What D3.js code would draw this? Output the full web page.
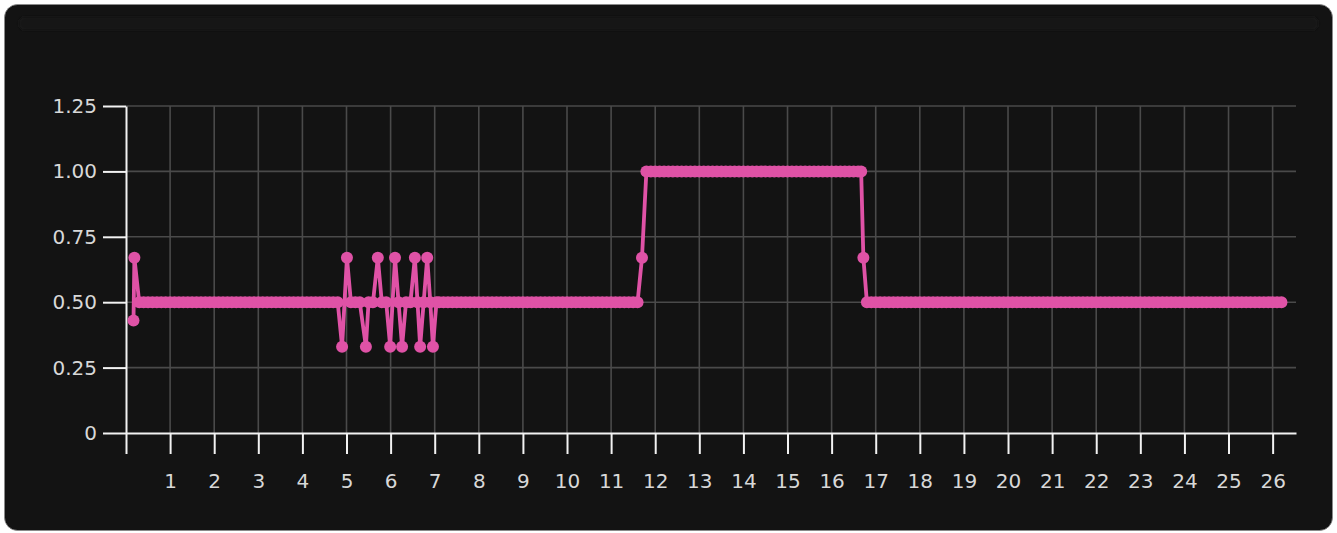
<!DOCTYPE html>
<html>
<head>
<meta charset="utf-8">
<script src="https://cdn.jsdelivr.net/npm/d3@7"></script>
<style>
    body { margin: 0; background: #fff; }
    .tick text { font-family: "DejaVu Sans", sans-serif; font-size: 20px; fill: #d8d8d8; }
</style>
</head>
<body>
<div class="viz"></div>
<script>
// hour of day -> share, one sample per circle
const samples = [
    [0.17, 0.43], [0.19, 0.67],
    [0.3, 0.5], [0.4, 0.5], [0.5, 0.5], [0.6, 0.5], [0.7, 0.5], [0.8, 0.5], [0.9, 0.5], [1.0, 0.5], [1.1, 0.5], [1.2, 0.5],
    [1.3, 0.5], [1.4, 0.5], [1.5, 0.5], [1.6, 0.5], [1.7, 0.5], [1.8, 0.5], [1.9, 0.5], [2.0, 0.5], [2.1, 0.5], [2.2, 0.5],
    [2.3, 0.5], [2.4, 0.5], [2.5, 0.5], [2.6, 0.5], [2.7, 0.5], [2.8, 0.5], [2.9, 0.5], [3.0, 0.5], [3.1, 0.5], [3.2, 0.5],
    [3.3, 0.5], [3.4, 0.5], [3.5, 0.5], [3.6, 0.5], [3.7, 0.5], [3.8, 0.5], [3.9, 0.5], [4.0, 0.5], [4.1, 0.5], [4.2, 0.5],
    [4.3, 0.5], [4.4, 0.5], [4.5, 0.5], [4.6, 0.5], [4.7, 0.5], [4.8, 0.5],
    [4.9, 0.33], [5.01, 0.67], [5.1, 0.5], [5.2, 0.5], [5.3, 0.5], [5.44, 0.33], [5.5, 0.5], [5.6, 0.5],
    [5.71, 0.67], [5.8, 0.5], [5.9, 0.5], [5.99, 0.33], [6.1, 0.67], [6.18, 0.5], [6.26, 0.33], [6.35, 0.5],
    [6.45, 0.5], [6.55, 0.67], [6.61, 0.5], [6.67, 0.33], [6.75, 0.5], [6.83, 0.67], [6.9, 0.5], [6.96, 0.33],
    [7.04, 0.5], [7.1, 0.5], [7.2, 0.5], [7.3, 0.5], [7.4, 0.5], [7.5, 0.5], [7.6, 0.5], [7.7, 0.5], [7.8, 0.5], [7.9, 0.5],
    [8.0, 0.5], [8.1, 0.5], [8.2, 0.5], [8.3, 0.5], [8.4, 0.5], [8.5, 0.5], [8.6, 0.5], [8.7, 0.5], [8.8, 0.5], [8.9, 0.5],
    [9.0, 0.5], [9.1, 0.5], [9.2, 0.5], [9.3, 0.5], [9.4, 0.5], [9.5, 0.5], [9.6, 0.5], [9.7, 0.5], [9.8, 0.5], [9.9, 0.5],
    [10.0, 0.5], [10.1, 0.5], [10.2, 0.5], [10.3, 0.5], [10.4, 0.5], [10.5, 0.5], [10.6, 0.5], [10.7, 0.5], [10.8, 0.5], [10.9, 0.5],
    [11.0, 0.5], [11.1, 0.5], [11.2, 0.5], [11.3, 0.5], [11.4, 0.5], [11.5, 0.5], [11.6, 0.5],
    [11.7, 0.67],
    [11.8, 1], [11.9, 1], [12.0, 1], [12.1, 1], [12.2, 1], [12.3, 1], [12.4, 1], [12.5, 1], [12.6, 1], [12.7, 1],
    [12.8, 1], [12.9, 1], [13.0, 1], [13.1, 1], [13.2, 1], [13.3, 1], [13.4, 1], [13.5, 1], [13.6, 1], [13.7, 1],
    [13.8, 1], [13.9, 1], [14.0, 1], [14.1, 1], [14.2, 1], [14.3, 1], [14.4, 1], [14.5, 1], [14.6, 1], [14.7, 1],
    [14.8, 1], [14.9, 1], [15.0, 1], [15.1, 1], [15.2, 1], [15.3, 1], [15.4, 1], [15.5, 1], [15.6, 1], [15.7, 1],
    [15.8, 1], [15.9, 1], [16.0, 1], [16.1, 1], [16.2, 1], [16.3, 1], [16.4, 1], [16.5, 1], [16.6, 1], [16.67, 1],
    [16.72, 0.67],
    [16.8, 0.5], [16.9, 0.5], [17.0, 0.5], [17.1, 0.5], [17.2, 0.5], [17.3, 0.5], [17.4, 0.5], [17.5, 0.5], [17.6, 0.5], [17.7, 0.5],
    [17.8, 0.5], [17.9, 0.5], [18.0, 0.5], [18.1, 0.5], [18.2, 0.5], [18.3, 0.5], [18.4, 0.5], [18.5, 0.5], [18.6, 0.5], [18.7, 0.5],
    [18.8, 0.5], [18.9, 0.5], [19.0, 0.5], [19.1, 0.5], [19.2, 0.5], [19.3, 0.5], [19.4, 0.5], [19.5, 0.5], [19.6, 0.5], [19.7, 0.5],
    [19.8, 0.5], [19.9, 0.5], [20.0, 0.5], [20.1, 0.5], [20.2, 0.5], [20.3, 0.5], [20.4, 0.5], [20.5, 0.5], [20.6, 0.5], [20.7, 0.5],
    [20.8, 0.5], [20.9, 0.5], [21.0, 0.5], [21.1, 0.5], [21.2, 0.5], [21.3, 0.5], [21.4, 0.5], [21.5, 0.5], [21.6, 0.5], [21.7, 0.5],
    [21.8, 0.5], [21.9, 0.5], [22.0, 0.5], [22.1, 0.5], [22.2, 0.5], [22.3, 0.5], [22.4, 0.5], [22.5, 0.5], [22.6, 0.5], [22.7, 0.5],
    [22.8, 0.5], [22.9, 0.5], [23.0, 0.5], [23.1, 0.5], [23.2, 0.5], [23.3, 0.5], [23.4, 0.5], [23.5, 0.5], [23.6, 0.5], [23.7, 0.5],
    [23.8, 0.5], [23.9, 0.5], [24.0, 0.5], [24.1, 0.5], [24.2, 0.5], [24.3, 0.5], [24.4, 0.5], [24.5, 0.5], [24.6, 0.5], [24.7, 0.5],
    [24.8, 0.5], [24.9, 0.5], [25.0, 0.5], [25.1, 0.5], [25.2, 0.5], [25.3, 0.5], [25.4, 0.5], [25.5, 0.5], [25.6, 0.5], [25.7, 0.5],
    [25.8, 0.5], [25.9, 0.5], [26.0, 0.5], [26.1, 0.5], [26.2, 0.5],
];

const xTicks = d3.range(0, 27);            // 0 .. 26
const yTicks = [0, 0.25, 0.5, 0.75, 1, 1.25];
const xMax = 26.53,
    yMax = 1.25;

var W = 1337,
    H = 533,
    margin = { top: 106, right: 41, bottom: 100, left: 126 },
    width = W - margin.left - margin.right,
    height = H - margin.top - margin.bottom;

const pink = "#df52a6";

var svg = d3
    .select(".viz")
    .append("svg")
    .attr("width", W)
    .attr("height", H);

var defs = svg.append("defs");
defs.append("filter")
    .attr("id", "soft")
    .append("feGaussianBlur")
    .attr("stdDeviation", 1.6);

// card
svg.append("rect")
    .attr("x", 4.5)
    .attr("y", 4.5)
    .attr("width", 1328)
    .attr("height", 526)
    .attr("rx", 13)
    .attr("fill", "#131313")
    .attr("stroke", "#8a8a8a")
    .attr("stroke-width", 0.8);

svg.append("rect")
    .attr("x", 19)
    .attr("y", 17)
    .attr("width", 1299)
    .attr("height", 13)
    .attr("rx", 6)
    .attr("fill", "#181818")
    .attr("filter", "url(#soft)");

var x = d3.scaleLinear().domain([0, xMax]).range([0, width]);
var y = d3.scaleLinear().domain([0, yMax]).range([height, 0]);

var g = svg
    .append("g")
    .attr("transform", `translate(${margin.left},${margin.top})`);

// grid
g.append("g")
    .selectAll("line")
    .data(xTicks.filter((d) => d > 0))
    .enter()
    .append("line")
    .attr("x1", (d) => x(d))
    .attr("x2", (d) => x(d))
    .attr("y1", 0)
    .attr("y2", height)
    .attr("stroke", "#4a4a4a")
    .attr("stroke-width", 1.6);

g.append("g")
    .selectAll("line")
    .data(yTicks.filter((d) => d > 0))
    .enter()
    .append("line")
    .attr("x1", 0)
    .attr("x2", width)
    .attr("y1", (d) => y(d))
    .attr("y2", (d) => y(d))
    .attr("stroke", "#4a4a4a")
    .attr("stroke-width", 1.6);

// axes
var xAxis = d3
    .axisBottom(x)
    .tickValues(xTicks)
    .tickSize(21)
    .tickSizeOuter(0)
    .tickPadding(20)
    .tickFormat((d) => (d === 0 ? "" : d));

var yAxis = d3
    .axisLeft(y)
    .tickValues(yTicks)
    .tickSize(23)
    .tickSizeOuter(0)
    .tickPadding(6)
    .tickFormat((d) => (d === 0 ? "0" : d3.format(".2f")(d)));

var gx = g.append("g").attr("transform", `translate(0,${height})`).call(xAxis);
var gy = g.append("g").call(yAxis);

[gx, gy].forEach((a) => {
    a.select(".domain").attr("stroke", "#f2f2f2").attr("stroke-width", 2);
    a.selectAll(".tick line").attr("stroke", "#f2f2f2").attr("stroke-width", 2);
});

// series
var line = d3
    .line()
    .x((d) => x(d[0]))
    .y((d) => y(d[1]));

g.append("path")
    .datum(samples)
    .attr("d", line)
    .attr("fill", "none")
    .attr("stroke", pink)
    .attr("stroke-width", 3.8)
    .attr("stroke-linejoin", "round");

g.append("g")
    .selectAll("circle")
    .data(samples)
    .enter()
    .append("circle")
    .attr("cx", (d) => x(d[0]))
    .attr("cy", (d) => y(d[1]))
    .attr("r", 6)
    .attr("fill", pink);
</script>
</body>
</html>
